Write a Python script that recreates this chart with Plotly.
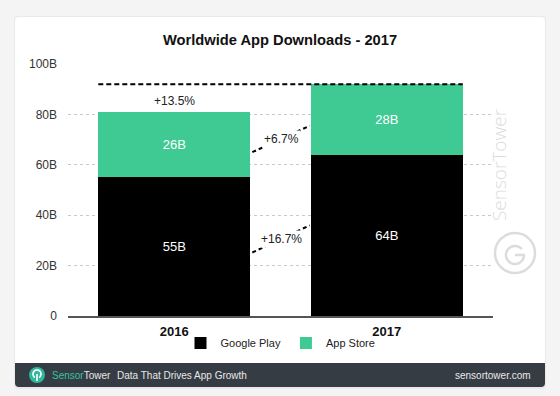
import math
import plotly.graph_objects as go

# ---- data ----
years = ["2016", "2017"]
google_play = [55, 64]
app_store = [26, 28]
growth_total = "+13.5%"
growth_app_store = "+6.7%"
growth_google_play = "+16.7%"
y_tickvals = [0, 20, 40, 60, 80, 100]
y_ticktext = ["0", "20B", "40B", "60B", "80B", "100B"]

GREEN = "#3fca93"
W, H = 560, 396
ML, MR, MT, MB = 68, 67, 64, 80
PW, PH = W - ML - MR, H - MT - MB
BARW = 0.715


def px(x):
    return (x - ML) / PW


def py(y):
    return (H - MB - y) / PH


fig = go.Figure()
fig.add_trace(go.Bar(
    x=years, y=google_play, name="Google Play", marker_color="#000000",
    marker_line_width=0, width=BARW,
    texttemplate="%{y}B", textposition="inside", insidetextanchor="middle",
    textfont=dict(color="white", size=13, family="Liberation Sans"),
    hoverinfo="skip"))
fig.add_trace(go.Bar(
    x=years, y=app_store, name="App Store", marker_color=GREEN,
    marker_line_width=0, width=BARW,
    texttemplate="%{y}B", textposition="inside", insidetextanchor="middle",
    textfont=dict(color="white", size=13, family="Liberation Sans"),
    hoverinfo="skip"))

shapes = []
annotations = []


def rounded_rect(x0, y0, x1, y1, r, top=True, bottom=True):
    X0, X1 = px(x0), px(x1)
    Y0, Y1 = py(y0), py(y1)
    rx, ry = r / PW, r / PH
    rt = (rx, ry) if top else (0, 0)
    rb = (rx, ry) if bottom else (0, 0)
    p = f"M{X0 + rt[0]},{Y0} L{X1 - rt[0]},{Y0} "
    p += f"Q{X1},{Y0} {X1},{Y0 - rt[1]} " if top else ""
    p += f"L{X1},{Y1 + rb[1]} "
    p += f"Q{X1},{Y1} {X1 - rb[0]},{Y1} " if bottom else ""
    p += f"L{X0 + rb[0]},{Y1} "
    p += f"Q{X0},{Y1} {X0},{Y1 + rb[1]} " if bottom else ""
    p += f"L{X0},{Y0 - rt[1]} "
    p += f"Q{X0},{Y0} {X0 + rt[0]},{Y0} Z" if top else "Z"
    return p


# card + shadow
shapes.append(dict(type="path", xref="paper", yref="paper", layer="below",
                   path=rounded_rect(14, 16, 546, 389, 4),
                   fillcolor="#e9e9e9", line_width=0))
shapes.append(dict(type="path", xref="paper", yref="paper", layer="below",
                   path=rounded_rect(15, 17, 545, 387, 4),
                   fillcolor="white", line_width=0))
# footer bar
shapes.append(dict(type="path", xref="paper", yref="paper", layer="above",
                   path=rounded_rect(15, 363, 545, 387, 4, top=False),
                   fillcolor="#363c44", line_width=0))

# dashed total line across both bars
total_2017 = google_play[1] + app_store[1]
shapes.append(dict(type="line", xref="x", yref="y",
                   x0=0 - BARW / 2, x1=1 + BARW / 2, y0=total_2017, y1=total_2017,
                   line=dict(color="black", width=2, dash="5px,3px")))
annotations.append(dict(x=0, y=google_play[0] + app_store[0] + 4.5, xref="x", yref="y",
                        text=growth_total, showarrow=False,
                        font=dict(size=12, color="#222", family="Liberation Sans")))

# connector lines
e0, e1 = 0 + BARW / 2 + 0.01, 1 - BARW / 2 - 0.005
for (ya, yb, label) in [(65, 75.5, growth_app_store), (25.2, 36, growth_google_play)]:
    shapes.append(dict(type="line", xref="x", yref="y", x0=e0, x1=e1, y0=ya, y1=yb,
                       line=dict(color="black", width=2, dash="4px,3px")))
    annotations.append(dict(x=(e0 + e1) / 2, y=(ya + yb) / 2, xref="x", yref="y",
                            text=label, showarrow=False, bgcolor="white",
                            borderpad=1,
                            font=dict(size=12, color="#222", family="Liberation Sans")))

# watermark
WM = "#dcdcdc"
annotations.append(dict(x=px(514), y=py(165), xref="paper", yref="paper",
                        text="SensorTower", textangle=-90, showarrow=False,
                        font=dict(size=19, color=WM, family="Open Sans", weight=300)))
shapes.append(dict(type="circle", xref="paper", yref="paper",
                   x0=px(495), x1=px(535), y0=py(273), y1=py(233),
                   line=dict(color=WM, width=2.5)))
cx, cy, r = 515, 255, 9
pts = []
for k in range(0, 41):
    a = math.radians(40 + k * (320 / 40))
    pts.append((cx + r * math.cos(a), cy - r * math.sin(a)))
path = "M" + " L".join(f"{px(x)},{py(y)}" for x, y in pts)
path += f" L{px(cx)},{py(cy)}"
shapes.append(dict(type="path", xref="paper", yref="paper", path=path,
                   line=dict(color=WM, width=2.5)))

# footer logo
shapes.append(dict(type="circle", xref="paper", yref="paper",
                   x0=px(29), x1=px(45), y0=py(383), y1=py(367),
                   fillcolor="#2fb89c", line_width=0))
cx, cy, r = 37, 374, 4
pts = []
for k in range(0, 41):
    a = math.radians(-60 + k * (300 / 40))
    pts.append((cx + r * math.cos(a), cy - r * math.sin(a)))
path = "M" + " L".join(f"{px(x)},{py(y)}" for x, y in pts)
path += f" M{px(cx)},{py(cy)} L{px(cx)},{py(381)}"
shapes.append(dict(type="path", xref="paper", yref="paper", path=path,
                   line=dict(color="white", width=1.6)))

FOOT_FONT = dict(size=10, color="#e8e8e8", family="Liberation Sans")
annotations.append(dict(x=px(50), y=py(375), xref="paper", yref="paper",
                        xanchor="left", yanchor="middle", showarrow=False,
                        text="<span style='color:#35c2a2'>Sensor</span>Tower",
                        font=FOOT_FONT))
annotations.append(dict(x=px(115), y=py(375), xref="paper", yref="paper",
                        xanchor="left", yanchor="middle", showarrow=False,
                        text="Data That Drives App Growth", font=FOOT_FONT))
annotations.append(dict(x=px(533), y=py(375), xref="paper", yref="paper",
                        xanchor="right", yanchor="middle", showarrow=False,
                        text="sensortower.com", font=FOOT_FONT))

fig.update_layout(
    width=W, height=H,
    margin=dict(l=ML, r=MR, t=MT, b=MB, pad=0),
    barmode="stack",
    paper_bgcolor="#f4f4f4",
    plot_bgcolor="rgba(0,0,0,0)",
    title=dict(text="<b>Worldwide App Downloads - 2017</b>", x=0.5, xanchor="center",
               y=1 - 40 / H, yanchor="middle", yref="container",
               font=dict(size=14.7, color="#111", family="Liberation Sans")),
    showlegend=True,
    legend=dict(orientation="h", x=0.5, xanchor="center", y=py(343), yanchor="middle",
                font=dict(size=11, color="#222", family="Liberation Sans"),
                bgcolor="rgba(0,0,0,0)", traceorder="normal"),
    xaxis=dict(type="category", range=[-0.5, 1.5], showline=True, linecolor="#555",
               linewidth=1.5, showgrid=False, ticks="", ticklabelstandoff=3,
               tickfont=dict(size=13, color="#111", family="Liberation Sans", weight="bold")),
    yaxis=dict(range=[0, 100], tickvals=y_tickvals, ticktext=y_ticktext,
               showgrid=True, gridcolor="#c9c9c9", griddash="dot", gridwidth=1,
               zeroline=False, showline=False, ticks="", ticklabelstandoff=10,
               tickfont=dict(size=12, color="#333", family="Liberation Sans")),
    shapes=shapes,
    annotations=annotations,
    hovermode=False,
)

fig.write_html(
    "out.html",
    config={"displayModeBar": False},
    post_script="document.body.style.margin='0';document.body.style.background='#f4f4f4';",
)
